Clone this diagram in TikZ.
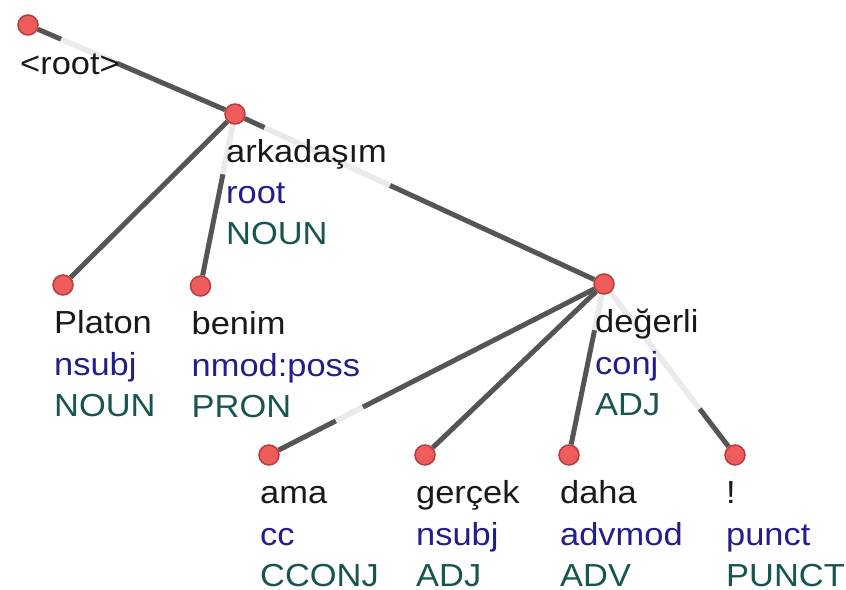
\documentclass[tikz,border=0pt]{standalone}
\usepackage{fontspec}
\usetikzlibrary{calc}
\newfontfamily\lblfont[FakeStretch=1.08]{Liberation Sans}

\definecolor{edgegray}{RGB}{85,85,85}
\definecolor{dotfill}{RGB}{238,92,92}
\definecolor{dotline}{RGB}{185,60,60}
\definecolor{wordcol}{RGB}{25,25,25}
\definecolor{depcol}{RGB}{35,30,140}
\definecolor{poscol}{RGB}{25,85,80}

\pgfdeclarelayer{bg}
\pgfsetlayers{bg,main}

\tikzset{
  dot/.style={circle, fill=dotfill, draw=dotline, line width=1.5bp, minimum size=20bp, inner sep=0pt},
  arc/.style={draw=edgegray, line width=5bp},
  fade/.style={draw=white, opacity=0.88, line width=5.6bp},
  txt/.style={anchor=base west, inner sep=0pt, font=\lblfont\fontsize{32}{32}\selectfont},
}

% word, relation and part of speech under a token dot
\newcommand\tokenlabels[4]{%
  \node[txt, text=wordcol] (#1w) at ($(#1)+(-9,48.5)$) {#2};
  \node[txt, text=depcol]  (#1d) at ($(#1)+(-9,90)$) {#3};
  \node[txt, text=poscol, text depth=0pt] (#1p) at ($(#1)+(-9,131)$) {#4};
}

\begin{document}
\begin{tikzpicture}[x=1bp, y=-1bp]
  \useasboundingbox (0,0) rectangle (846,590);

  % token dots
  \node[dot] (root) at (28,25) {};
  \node[dot] (ark)  at (235,114) {};
  \node[dot] (plat) at (63,285) {};
  \node[dot] (ben)  at (200.5,286) {};
  \node[dot] (deg)  at (604,284) {};
  \node[dot] (ama)  at (269,455) {};
  \node[dot] (ger)  at (425,455) {};
  \node[dot] (daha) at (569,455) {};
  \node[dot] (excl) at (735,455) {};

  % dependency arcs, with the paler stretches along them
  \begin{pgfonlayer}{bg}
    \draw[arc] (root) -- (ark);
    \draw[arc] (ark) -- (plat);
    \draw[arc] (ark) -- (ben);
    \draw[arc] (ark) -- (deg);
    \draw[arc] (deg) -- (ama);
    \draw[arc] (deg) -- (ger);
    \draw[arc] (deg) -- (daha);
    \draw[arc] (deg) -- (excl);

    \draw[fade] ($(root)!0.16!(ark)$) -- ($(root)!0.43!(ark)$);
    \draw[fade] ($(ark)!0.08!(deg)$) -- ($(ark)!0.42!(deg)$);
    \draw[fade] ($(ark)!0.06!(ben)$) -- ($(ark)!0.35!(ben)$);
    \draw[fade] ($(deg)!0.72!(ama)$) -- ($(deg)!0.80!(ama)$);
    \draw[fade] ($(deg)!0.05!(excl)$) -- ($(deg)!0.73!(excl)$);
    \draw[fade] ($(deg)!0.05!(daha)$) -- ($(deg)!0.27!(daha)$);
  \end{pgfonlayer}

  % labels
  \node[txt, text=wordcol] (rootw) at ($(root)+(-8,50)$) {<root>};
  \tokenlabels{ark}{arkadaşım}{root}{NOUN}
  \tokenlabels{plat}{Platon}{nsubj}{NOUN}
  \tokenlabels{ben}{benim}{nmod:poss}{PRON}
  \tokenlabels{deg}{değerli}{conj}{ADJ}
  \tokenlabels{ama}{ama}{cc}{CCONJ}
  \tokenlabels{ger}{gerçek}{nsubj}{ADJ}
  \tokenlabels{daha}{daha}{advmod}{ADV}
  \tokenlabels{excl}{!}{punct}{PUNCT}
\end{tikzpicture}
\end{document}
